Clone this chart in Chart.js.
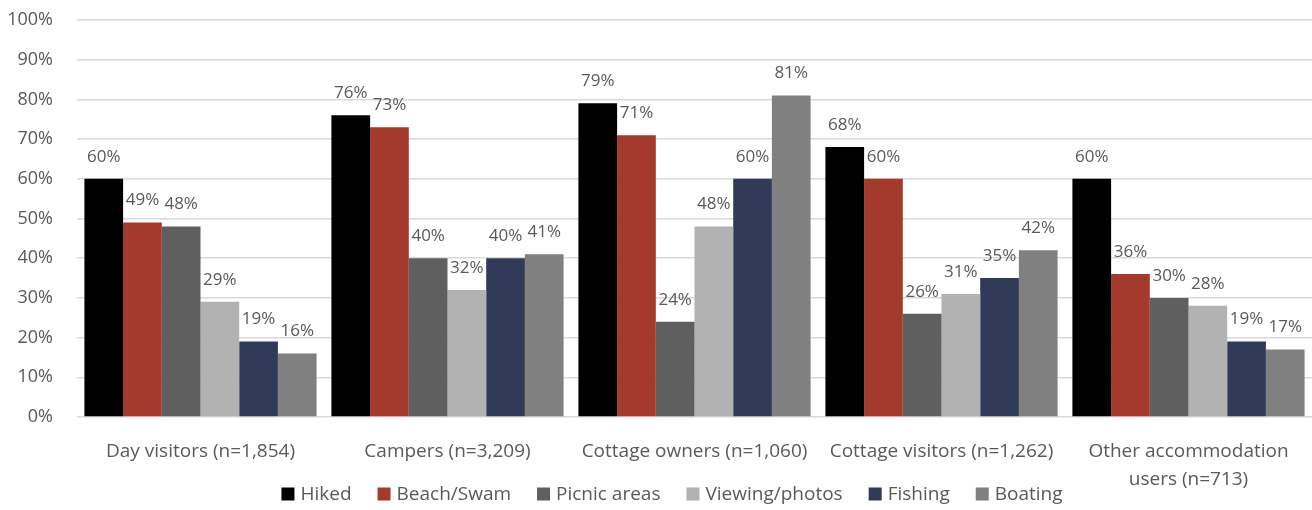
<!DOCTYPE html>
<html>
<head>
<meta charset="utf-8">
<script src="https://cdn.jsdelivr.net/npm/chart.js@4"></script>
<style>
  html, body { margin: 0; padding: 0; background: #fff; }
  #wrap { width: 1312px; height: 510px; }
</style>
</head>
<body>
<div id="wrap"><canvas id="myChart"></canvas></div>
<script>
const categories = [
  'Day visitors (n=1,854)',
  'Campers (n=3,209)',
  'Cottage owners (n=1,060)',
  'Cottage visitors (n=1,262)',
  ['Other accommodation', 'users (n=713)']
];
const hiked = [60, 76, 79, 68, 60];
const beachSwam = [49, 73, 71, 60, 36];
const picnicAreas = [48, 40, 24, 26, 30];
const viewingPhotos = [29, 32, 48, 31, 28];
const fishing = [19, 40, 60, 35, 19];
const boating = [16, 41, 81, 42, 17];

const FONT = "'Open Sans', 'Noto Sans', sans-serif";
const TEXT = '#595959';

// value labels above each bar
const barLabels = {
  id: 'barLabels',
  afterDatasetsDraw(chart) {
    const ctx = chart.ctx;
    ctx.save();
    ctx.font = '17px ' + FONT;
    ctx.fillStyle = TEXT;
    ctx.textAlign = 'center';
    ctx.textBaseline = 'middle';
    chart.data.datasets.forEach((ds, i) => {
      chart.getDatasetMeta(i).data.forEach((bar, j) => {
        ctx.fillText(ds.data[j] + '%', bar.x, bar.y - 22);
      });
    });
    ctx.restore();
  }
};

// legend row drawn under the axis labels
const bottomLegend = {
  id: 'bottomLegend',
  afterDraw(chart) {
    const ctx = chart.ctx;
    const box = 13, gap = 6, itemGap = 26, cy = 494;
    ctx.save();
    ctx.font = '19px ' + FONT;
    ctx.textBaseline = 'middle';
    ctx.textAlign = 'left';
    const items = chart.data.datasets.map(ds => ({
      text: ds.label, color: ds.backgroundColor,
      w: box + gap + ctx.measureText(ds.label).width
    }));
    const total = items.reduce((s, it) => s + it.w, 0) + itemGap * (items.length - 1);
    let x = 672 - total / 2;
    items.forEach(it => {
      ctx.fillStyle = it.color;
      ctx.fillRect(x, cy - box / 2, box, box);
      ctx.fillStyle = TEXT;
      ctx.fillText(it.text, x + box + gap, cy + 1);
      x += it.w + itemGap;
    });
    ctx.restore();
  }
};

const ctx = document.getElementById('myChart');

new Chart(ctx, {
  type: 'bar',
  data: {
    labels: categories,
    datasets: [
      { label: 'Hiked', data: hiked, backgroundColor: '#000000' },
      { label: 'Beach/Swam', data: beachSwam, backgroundColor: '#a33a2b' },
      { label: 'Picnic areas', data: picnicAreas, backgroundColor: '#5f5f5f' },
      { label: 'Viewing/photos', data: viewingPhotos, backgroundColor: '#b2b2b2' },
      { label: 'Fishing', data: fishing, backgroundColor: '#313a58' },
      { label: 'Boating', data: boating, backgroundColor: '#808080' }
    ]
  },
  options: {
    responsive: true,
    maintainAspectRatio: false,
    animation: false,
    categoryPercentage: 0.94,
    barPercentage: 1,
    layout: { padding: { left: 0, right: 0, top: 20, bottom: 0 } },
    plugins: {
      tooltip: { enabled: false },
      legend: { display: false }
    },
    scales: {
      x: {
        grid: { display: false },
        border: { display: false },
        afterFit: scale => { scale.height = 93; },
        ticks: {
          font: { family: FONT, size: 19, lineHeight: 1.47 },
          color: TEXT,
          padding: 13,
          maxRotation: 0,
          autoSkip: false
        }
      },
      y: {
        min: 0,
        max: 100,
        border: { display: false },
        afterFit: scale => {
          scale.width = 77;
          scale.paddingTop = 0;
          scale.paddingBottom = 0;
        },
        grid: { color: '#d9d9d9', lineWidth: 1.5, drawTicks: false },
        ticks: {
          stepSize: 10,
          font: { family: FONT, size: 18 },
          color: TEXT,
          padding: 24,
          callback: v => v + '%'
        }
      }
    }
  },
  plugins: [barLabels, bottomLegend]
});
</script>
</body>
</html>
